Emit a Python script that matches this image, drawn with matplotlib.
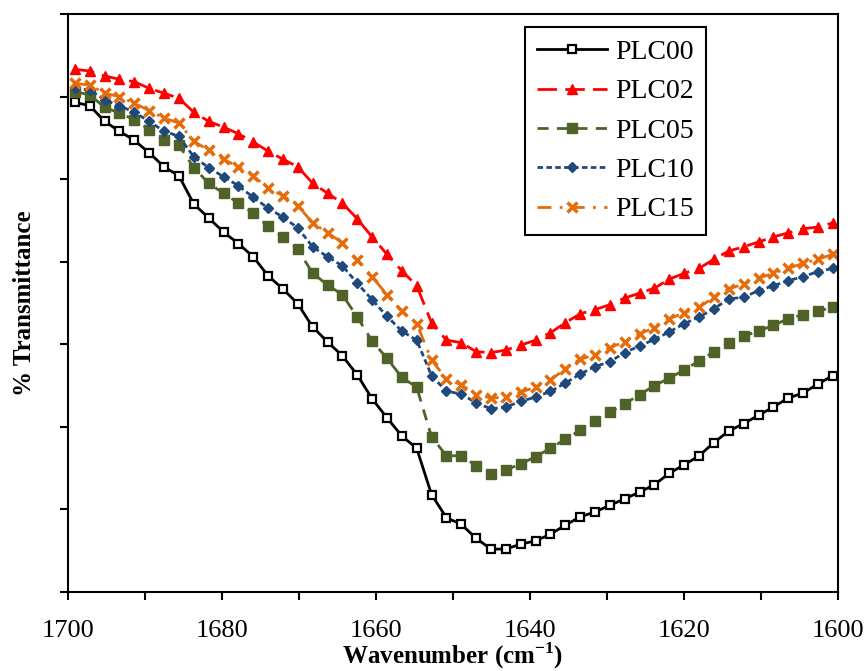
import matplotlib.pyplot as plt
from matplotlib.ticker import MultipleLocator, NullFormatter

# FTIR amide I region, 1700-1600 cm-1
wavenumber = [1699.10, 1697.17, 1695.24, 1693.31, 1691.38, 1689.45, 1687.52, 1685.59,
              1683.66, 1681.73, 1679.80, 1677.87, 1675.94, 1674.01, 1672.08, 1670.15,
              1668.22, 1666.29, 1664.36, 1662.43, 1660.50, 1658.57, 1656.64, 1654.71,
              1652.78, 1650.85, 1648.92, 1646.99, 1645.06, 1643.13, 1641.20, 1639.27,
              1637.34, 1635.41, 1633.48, 1631.55, 1629.62, 1627.69, 1625.76, 1623.83,
              1621.90, 1619.97, 1618.04, 1616.11, 1614.18, 1612.25, 1610.32, 1608.39,
              1606.46, 1604.53, 1602.60, 1600.67]

plc00 = [59.3, 58.9, 57.0, 55.8, 54.7, 53.2, 51.5, 50.4, 47.0, 45.3, 43.6, 42.2, 40.6,
         38.3, 36.7, 34.9, 32.1, 30.3, 28.6, 26.3, 23.4, 21.1, 18.9, 17.4, 11.8, 9.0,
         8.2, 6.5, 5.2, 5.2, 5.8, 6.2, 7.0, 8.1, 9.1, 9.7, 10.5, 11.3, 12.1, 13.0,
         14.4, 15.4, 16.5, 18.1, 19.5, 20.4, 21.4, 22.4, 23.5, 24.1, 25.2, 26.2]
plc02 = [63.3, 63.1, 62.5, 62.1, 61.8, 61.0, 60.4, 59.8, 58.1, 57.0, 56.3, 55.5, 54.5,
         53.4, 52.4, 51.5, 49.5, 48.3, 47.1, 45.2, 43.0, 40.9, 38.9, 37.1, 32.6, 30.5,
         30.2, 29.1, 29.0, 29.3, 29.9, 30.5, 31.4, 32.6, 33.7, 34.2, 34.8, 35.6, 36.2,
         36.8, 37.9, 38.6, 39.2, 40.3, 41.3, 41.8, 42.4, 43.0, 43.5, 44.0, 44.2, 44.7]
plc05 = [60.6, 60.2, 58.7, 58.0, 57.2, 56.0, 54.7, 54.1, 51.4, 49.5, 48.3, 47.1, 45.9,
         44.3, 43.0, 41.5, 38.6, 37.2, 36.0, 33.3, 30.4, 28.3, 26.0, 24.8, 18.8, 16.5,
         16.5, 15.3, 14.3, 14.8, 15.5, 16.4, 17.4, 18.5, 19.6, 20.7, 21.8, 22.8, 23.9,
         25.0, 25.9, 26.9, 28.0, 29.1, 30.2, 31.0, 31.6, 32.3, 33.1, 33.6, 34.0, 34.5]
plc10 = [61.0, 60.8, 59.6, 58.9, 58.1, 57.0, 55.8, 55.2, 52.7, 51.4, 50.3, 49.2, 47.8,
         46.5, 45.4, 44.1, 41.8, 40.6, 39.5, 37.4, 35.4, 33.4, 31.6, 30.5, 26.2, 24.3,
         24.0, 22.9, 22.2, 22.4, 23.1, 23.6, 24.3, 25.3, 26.4, 27.3, 27.9, 29.0, 29.8,
         30.6, 31.5, 32.5, 33.3, 34.3, 35.5, 35.7, 36.5, 37.1, 37.7, 38.2, 38.8, 39.2]
plc15 = [61.6, 61.4, 60.4, 60.0, 59.2, 58.3, 57.4, 56.8, 54.6, 53.5, 52.4, 51.5, 50.4,
         48.9, 48.0, 46.8, 44.7, 43.5, 42.3, 40.2, 38.2, 36.0, 34.0, 32.5, 28.1, 25.8,
         25.1, 23.9, 23.5, 23.6, 24.2, 24.8, 25.7, 27.0, 28.2, 28.7, 29.6, 30.3, 31.3,
         32.0, 33.1, 33.8, 34.5, 35.7, 36.7, 37.3, 38.0, 38.6, 39.2, 39.8, 40.3, 40.9]

plt.rcParams['font.family'] = 'Liberation Serif'
plt.rcParams['mathtext.fontset'] = 'custom'
plt.rcParams['mathtext.rm'] = 'Liberation Serif'
plt.rcParams['mathtext.bf'] = 'Liberation Serif:bold'

fig = plt.figure(figsize=(8.68, 6.71), dpi=100)
ax = fig.add_axes([0.0783, 0.1177, 0.8871, 0.8614])

ax.plot(wavenumber, plc00, color='black', lw=2, ls='-', marker='s', ms=6,
        mfc='white', mec='black', mew=1.6, label='PLC00')
ax.plot(wavenumber, plc02, color='#FF0000', lw=2, ls=(0, (7, 3)), marker='^', ms=7,
        mfc='#FF0000', mec='#FF0000', label='PLC02')
ax.plot(wavenumber, plc05, color='#4F6228', lw=2, ls=(0, (4, 3)), marker='s', ms=7,
        mfc='#4F6228', mec='#4F6228', label='PLC05')
ax.plot(wavenumber, plc10, color='#1F497D', lw=2, ls=(0, (2, 1.2)), marker='D', ms=5.5,
        mfc='#1F497D', mec='#1F497D', label='PLC10')
ax.plot(wavenumber, plc15, color='#E46C0A', lw=2, ls=(0, (5, 3, 1, 3)), marker='x', ms=7,
        mec='#E46C0A', mew=2.5, label='PLC15')

ax.set_xlim(1700, 1600)
ax.set_ylim(0, 70)
ax.xaxis.set_major_locator(MultipleLocator(20))
ax.xaxis.set_minor_locator(MultipleLocator(10))
ax.yaxis.set_major_locator(MultipleLocator(10))
ax.yaxis.set_major_formatter(NullFormatter())
ax.tick_params(axis='both', which='both', direction='out', length=6, width=1.5,
               labelsize=19)
ax.tick_params(axis='x', which='both', top=False, pad=14)
ax.tick_params(axis='y', which='both', left=True, right=False)
for s in ax.spines.values():
    s.set_linewidth(1.5)

ax.set_xlabel('Wavenumber (cm$^{\\mathbf{-1}}$)', fontsize=18, fontweight='bold')
ax.set_ylabel('% Transmittance', fontsize=18, fontweight='bold')
ax.xaxis.set_label_coords(0.5, -0.084)
ax.yaxis.set_label_coords(-0.041, 0.5)

leg = ax.legend(loc='upper left', bbox_to_anchor=(0.5935, 0.9775), borderaxespad=0,
                fontsize=20, fancybox=False, framealpha=1, edgecolor='black',
                handlelength=2.5, handletextpad=0.3, labelspacing=0.5, borderpad=0.45)
leg.get_frame().set_linewidth(1.5)

fig.savefig('out.png', dpi=100)
